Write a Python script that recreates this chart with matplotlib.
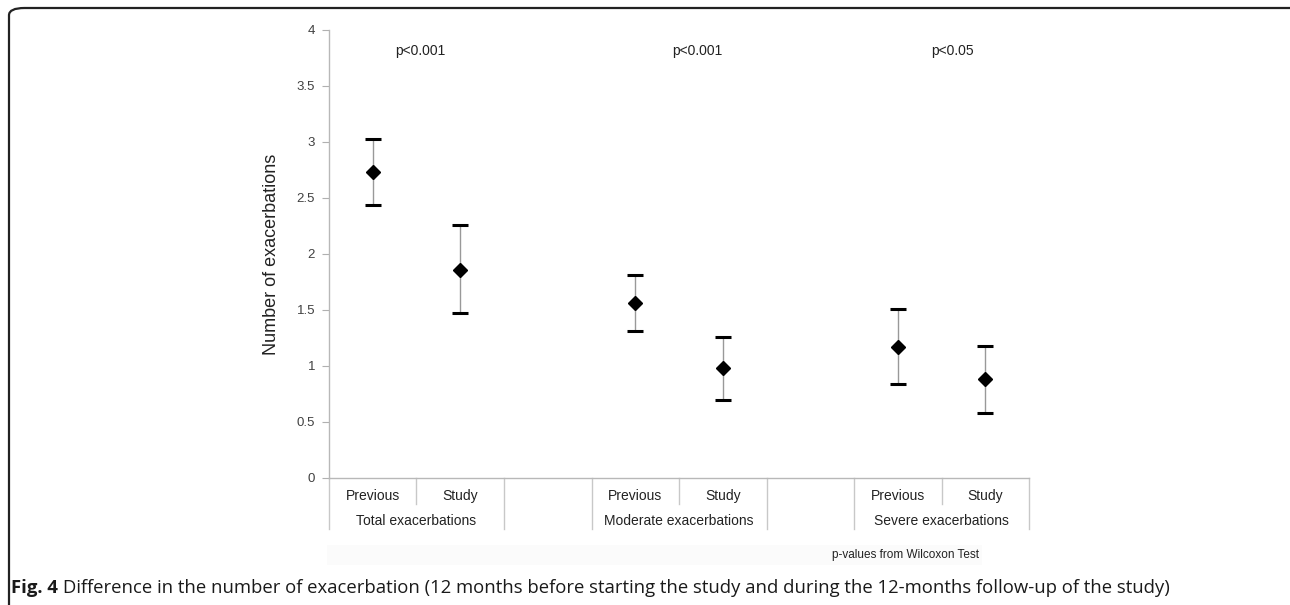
import matplotlib
matplotlib.use('Agg')
import matplotlib.pyplot as plt
from matplotlib.patches import FancyBboxPatch, Rectangle
import numpy as np

plt.rcParams['font.family'] = ['Liberation Sans', 'DejaVu Sans']

# --- data ---
slot_labels = ['Previous', 'Study', '', 'Previous', 'Study', '', 'Previous', 'Study']
group_labels = ['Total exacerbations', 'Moderate exacerbations', 'Severe exacerbations']
p_labels = ['p<0.001', 'p<0.001', 'p<0.05']

# slot index of each point
point_slots = [0, 1, 3, 4, 6, 7]
means = [2.73, 1.86, 1.56, 0.98, 1.17, 0.88]
upper = [3.03, 2.26, 1.81, 1.26, 1.51, 1.18]
lower = [2.44, 1.47, 1.315, 0.70, 0.84, 0.58]

means = np.array(means)
yerr = np.array([means - np.array(lower), np.array(upper) - means])

fig = plt.figure(figsize=(12.9, 6.05), dpi=100)
ax = fig.add_axes([329 / 1290, 1 - 478 / 605, 700 / 1290, 448 / 605])

eb = ax.errorbar(point_slots, means, yerr=yerr, fmt='D', ms=7.5,
                 mfc='black', mec='black', ecolor='#999999', elinewidth=1.0,
                 capsize=5.5, capthick=2.2, zorder=3)
for cap in eb[1]:
    cap.set_markeredgecolor('black')
    cap.set_color('black')

ax.set_xlim(-0.5, len(slot_labels) - 0.5)
ax.set_ylim(0, 4)
ax.set_yticks([0, 0.5, 1, 1.5, 2, 2.5, 3, 3.5, 4])
ax.set_yticklabels(['0', '0.5', '1', '1.5', '2', '2.5', '3', '3.5', '4'])
ax.tick_params(axis='y', direction='out', length=5, width=0.8, color='#b0b0b0',
               labelsize=9.5, labelcolor='#404040', pad=5)
ax.set_xticks([])
for s in ['top', 'right']:
    ax.spines[s].set_visible(False)
for s in ['left', 'bottom']:
    ax.spines[s].set_color('#b8b8b8')
    ax.spines[s].set_linewidth(1.0)
ax.set_ylabel('Number of exacerbations', fontsize=13, color='#222222', labelpad=12)

# category table below the axis
y_short = -26 / 448
y_long = -51 / 448
y_row1 = -18 / 448
y_row2 = -43 / 448
trans = ax.get_xaxis_transform()
for i, lab in enumerate(slot_labels):
    if lab:
        ax.text(i, y_row1, lab, transform=trans, ha='center', va='center',
                fontsize=10, color='#222222')
long_div = [-0.5, 1.5, 2.5, 4.5, 5.5, 7.5]
short_div = [0.5, 3.5, 6.5]
for xd in long_div:
    ax.plot([xd, xd], [0, y_long], transform=trans, color='#c8c8c8', lw=1.0, clip_on=False)
for xd in short_div:
    ax.plot([xd, xd], [0, y_short], transform=trans, color='#c8c8c8', lw=1.0, clip_on=False)
group_centers = [0.5, 3.5, 6.5]
for xc, lab in zip(group_centers, group_labels):
    ax.text(xc, y_row2, lab, transform=trans, ha='center', va='center',
            fontsize=10, color='#222222')

# p-values
p_x = [0.26, 3.42, 6.38]
for xp, lab in zip(p_x, p_labels):
    ax.text(xp, 3.81, lab, ha='left', va='center', fontsize=10, color='#222222')

# faint band and footnote
fig.add_artist(Rectangle((327 / 1290, 1 - 565 / 605), 655 / 1290, 20 / 605,
                         transform=fig.transFigure, facecolor='#fbfbfb',
                         edgecolor='none', zorder=0))
fig.text(905 / 1290, 1 - 555 / 605, 'p-values from Wilcoxon Test', ha='center',
         va='center', fontsize=8.5, color='#222222')

# caption
cap_y = 1 - 588 / 605
t1 = fig.text(11 / 1290, cap_y, 'Fig. 4', ha='left', va='center', fontsize=13.3,
              fontweight='bold', family=['Open Sans', 'DejaVu Sans'], color='#1a1a1a')
fig.canvas.draw()
bb = t1.get_window_extent()
fig.text((bb.x1 + 5) / 1290, cap_y,
         'Difference in the number of exacerbation (12 months before starting the study '
         'and during the 12-months follow-up of the study)',
         ha='left', va='center', fontsize=13.3, family=['Open Sans', 'DejaVu Sans'],
         color='#1a1a1a')

# frame: top line and left line with rounded corners
fig.add_artist(FancyBboxPatch((9 / 1290, -0.2), 1300 / 1290, (605 - 8) / 605 + 0.2,
                              boxstyle='round,pad=0,rounding_size=0.012',
                              transform=fig.transFigure, facecolor='none',
                              edgecolor='#222222', lw=1.6, zorder=5))

fig.savefig('out.png', dpi=100)
